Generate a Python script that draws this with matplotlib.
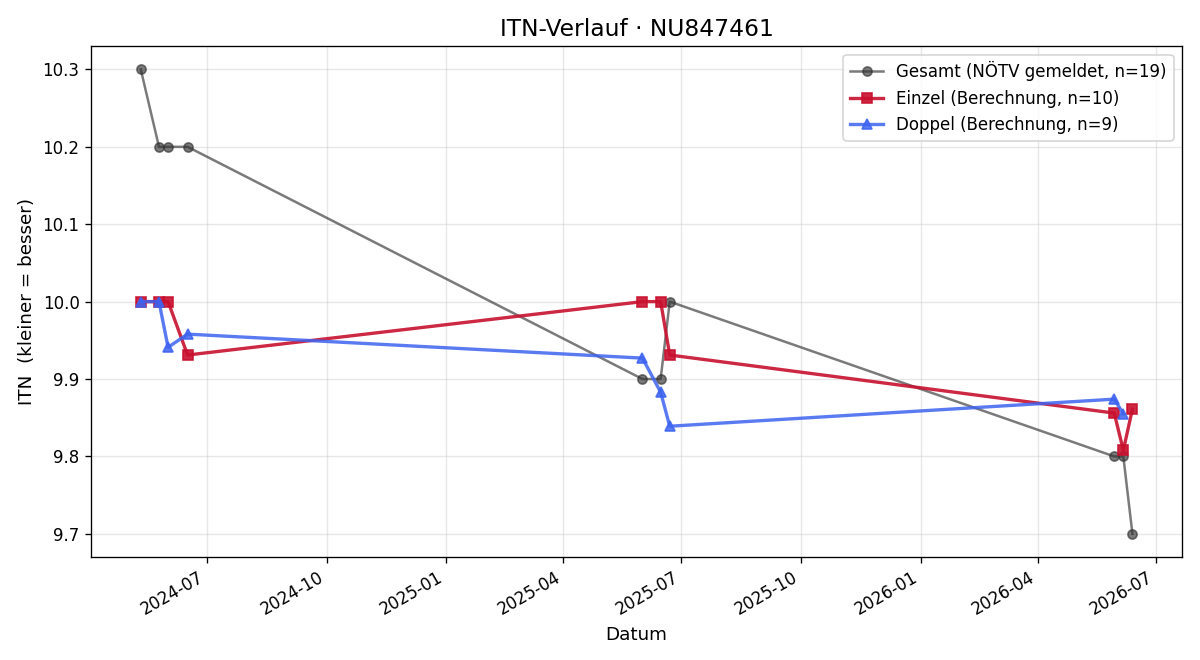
import pandas as pd
import matplotlib.pyplot as plt

# dates of the tournaments
dates = ["2024-05-11", "2024-05-25", "2024-06-01", "2024-06-16",
         "2025-06-01", "2025-06-15", "2025-06-22",
         "2026-05-30", "2026-06-06", "2026-06-13"]

gesamt = [10.3, 10.2, 10.2, 10.2, 9.9, 9.9, 10.0, 9.8, 9.8, 9.7]
einzel = [10.0, 10.0, 10.0, 9.931, 10.0, 10.0, 9.931, 9.856, 9.808, 9.861]
doppel = [10.0, 10.0, 9.941, 9.958, 9.927, 9.883, 9.839, 9.874, 9.855]

n_gesamt, n_einzel, n_doppel = 19, 10, 9


def main():
    d = pd.to_datetime(dates)

    fig, ax = plt.subplots(figsize=(10, 5.5), dpi=120)
    ax.plot(d, gesamt, marker="o", color="#333333", alpha=0.65, lw=1.5, ms=5.5,
            label=f"Gesamt (NÖTV gemeldet, n={n_gesamt})")
    ax.plot(d, einzel, marker="s", color="#c8102e", alpha=0.9, lw=2, ms=6,
            label=f"Einzel (Berechnung, n={n_einzel})")
    ax.plot(d[:len(doppel)], doppel, marker="^", color="#3d63f0", alpha=0.85, lw=2, ms=6,
            label=f"Doppel (Berechnung, n={n_doppel})")

    ax.set_title("ITN-Verlauf · NU847461", fontsize=14)
    ax.set_xlabel("Datum", fontsize=11)
    ax.set_ylabel("ITN  (kleiner = besser)", fontsize=11)
    ax.grid(True, alpha=0.3)
    ax.legend(loc="upper right")
    fig.autofmt_xdate()
    fig.subplots_adjust(left=0.076, right=0.985, top=0.93, bottom=0.156)
    plt.savefig("out.png")


if __name__ == "__main__":
    main()
